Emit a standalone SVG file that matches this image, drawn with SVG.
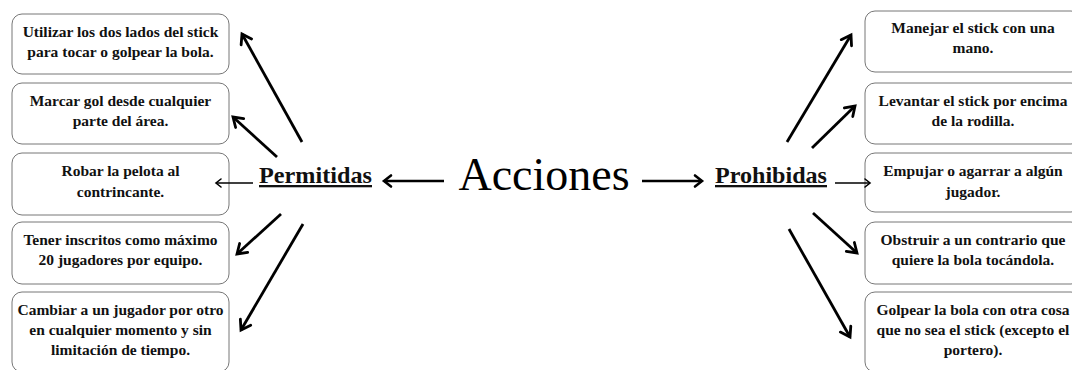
<svg xmlns="http://www.w3.org/2000/svg" width="1072" height="370" viewBox="0 0 1072 370">
<style>
.box{fill:#fff;stroke:#777;stroke-width:1}
.t{font-family:"Liberation Serif","Times New Roman",serif;font-weight:bold;font-size:15.5px;fill:#111;text-anchor:middle}
.cat{font-family:"Liberation Serif","Times New Roman",serif;font-weight:bold;font-size:23px;fill:#111;text-decoration:underline}
.main{font-family:"Liberation Serif","Times New Roman",serif;font-size:46px;fill:#000;text-anchor:middle}
.a{stroke:#000;stroke-width:2.8;fill:none;marker-end:url(#ah)}
.h{stroke:#000;stroke-width:2.6;fill:none;marker-end:url(#ah2)}
.thin{stroke:#000;stroke-width:1.3;fill:none;marker-end:url(#ah3)}
</style>
<defs>
<marker id="ah" markerUnits="userSpaceOnUse" markerWidth="16" markerHeight="16" viewBox="0 0 16 16" refX="13" refY="8" orient="auto">
<path d="M4,2 L13,8 L4,14" fill="none" stroke="#000" stroke-width="2.8" stroke-linecap="round"/>
</marker>
<marker id="ah2" markerUnits="userSpaceOnUse" markerWidth="16" markerHeight="16" viewBox="0 0 16 16" refX="13" refY="8" orient="auto">
<path d="M6,2.5 L13,8 L6,13.5" fill="none" stroke="#000" stroke-width="2.6" stroke-linecap="round"/>
</marker>
<marker id="ah3" markerUnits="userSpaceOnUse" markerWidth="12" markerHeight="12" viewBox="0 0 12 12" refX="10" refY="6" orient="auto">
<path d="M5,2 L10,6 L5,10" fill="none" stroke="#000" stroke-width="1.6" stroke-linecap="round"/>
</marker>
</defs>

<g id="acciones"><text class="main" x="544" y="190">Acciones</text></g>
<g id="permitidas"><text class="cat" x="259" y="183" textLength="113" lengthAdjust="spacingAndGlyphs">Permitidas</text></g>
<g id="prohibidas"><text class="cat" x="715" y="183" textLength="112" lengthAdjust="spacingAndGlyphs">Prohibidas</text></g>

<g id="p1"><rect class="box" x="12" y="14" width="217" height="60" rx="10"/>
<text class="t" x="120.5" y="37">Utilizar los dos lados del stick</text>
<text class="t" x="120.5" y="57">para tocar o golpear la bola.</text></g>
<g id="p2"><rect class="box" x="12" y="83" width="217" height="61" rx="10"/>
<text class="t" x="120.5" y="106">Marcar gol desde cualquier</text>
<text class="t" x="120.5" y="126">parte del área.</text></g>
<g id="p3"><rect class="box" x="12" y="153" width="217" height="62" rx="10"/>
<text class="t" x="120.5" y="176">Robar la pelota al</text>
<text class="t" x="120.5" y="197">contrincante.</text></g>
<g id="p4"><rect class="box" x="12" y="222" width="217" height="62" rx="10"/>
<text class="t" x="120.5" y="245">Tener inscritos como máximo</text>
<text class="t" x="120.5" y="265">20 jugadores por equipo.</text></g>
<g id="p5"><rect class="box" x="12" y="292" width="217" height="80" rx="10"/>
<text class="t" x="120.5" y="315">Cambiar a un jugador por otro</text>
<text class="t" x="120.5" y="335">en cualquier momento y sin</text>
<text class="t" x="120.5" y="355">limitación de tiempo.</text></g>

<g id="r1"><rect class="box" x="865" y="11" width="216" height="61" rx="10"/>
<text class="t" x="973" y="33">Manejar el stick con una</text>
<text class="t" x="973" y="53">mano.</text></g>
<g id="r2"><rect class="box" x="865" y="83" width="216" height="61" rx="10"/>
<text class="t" x="973" y="106">Levantar el stick por encima</text>
<text class="t" x="973" y="126">de la rodilla.</text></g>
<g id="r3"><rect class="box" x="865" y="153" width="216" height="59" rx="10"/>
<text class="t" x="973" y="176">Empujar o agarrar a algún</text>
<text class="t" x="973" y="197">jugador.</text></g>
<g id="r4"><rect class="box" x="865" y="222" width="216" height="62" rx="10"/>
<text class="t" x="973" y="245">Obstruir a un contrario que</text>
<text class="t" x="973" y="265">quiere la bola tocándola.</text></g>
<g id="r5"><rect class="box" x="865" y="292" width="216" height="80" rx="10"/>
<text class="t" x="973" y="315">Golpear la bola con otra cosa</text>
<text class="t" x="973" y="335">que no sea el stick (excepto el</text>
<text class="t" x="973" y="355">portero).</text></g>

<g id="connectors">
<line class="h" x1="444" y1="181" x2="384" y2="181"/>
<line class="h" x1="642" y1="181" x2="702" y2="181"/>
<line class="thin" x1="253" y1="183" x2="216" y2="183"/>
<line class="thin" x1="835" y1="183" x2="870" y2="183"/>
<line class="a" x1="302" y1="142" x2="242" y2="34"/>
<line class="a" x1="277" y1="157" x2="233" y2="117"/>
<line class="a" x1="281" y1="214" x2="237" y2="254"/>
<line class="a" x1="303" y1="224" x2="241" y2="330"/>
<line class="a" x1="787" y1="142" x2="851" y2="35"/>
<line class="a" x1="812" y1="148" x2="855" y2="106"/>
<line class="a" x1="813" y1="213" x2="857" y2="253"/>
<line class="a" x1="789" y1="229" x2="850" y2="337"/>
</g>
</svg>
